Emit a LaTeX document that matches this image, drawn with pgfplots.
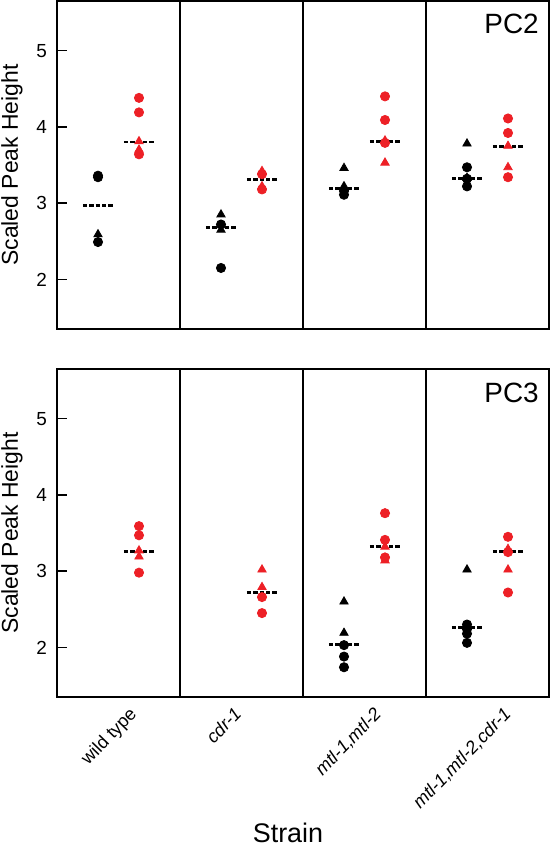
\documentclass[border=0pt]{standalone}
\usepackage{pgfplots}
\pgfplotsset{compat=1.18}
\usepackage{fontspec}
\setmainfont{Liberation Sans}
\definecolor{pred}{RGB}{237,32,38}
\pgfplotsset{
  panel/.style={
    scale only axis, width=246bp, height=164bp,
    xmin=0, xmax=12, ymin=1.35, ymax=5.65,
    axis line style={black, line width=1bp},
    ytick={2,3,4,5}, ytick pos=left, tick align=inside,
    major tick length=5bp,
    ytick style={black, line width=0.9bp},
    xtick style={draw=none},
    yticklabel style={font=\fontsize{9.5}{11}\selectfont, xshift=-1.5bp},
    /pgf/number format/assume math mode=true,
    extra x ticks={3,6,9}, extra x tick labels={},
    extra x tick style={grid=major, major grid style={black, line width=1bp}, tick style={draw=none}},
    ylabel={Scaled Peak Height},
    ylabel style={at={(axis description cs:-0.0915,0.5)}, anchor=center, font=\fontsize{11.5}{13}\selectfont},
    clip=false,
  },
  bcirc/.style={only marks, mark=*, mark size=2.3bp, black, mark options={draw=none, fill=black}},
  btri/.style={only marks, mark=triangle*, mark size=2.4bp, black, mark options={draw=none, fill=black}},
  rcirc/.style={only marks, mark=*, mark size=2.3bp, pred, mark options={draw=none, fill=pred}},
  rtri/.style={only marks, mark=triangle*, mark size=2.4bp, pred, mark options={draw=none, fill=pred}},
  med/.style={black, line width=1.25bp, dash pattern=on 2.2bp off 1bp, unbounded coords=jump},
}
\begin{document}
\begin{tikzpicture}
\useasboundingbox (-28.5bp,-78bp) rectangle (247bp,348.5bp);
% ---------- top panel (PC2)
\begin{axis}[panel, at={(0,184bp)}, anchor=south west, xtick=\empty]
\addplot[bcirc] coordinates {(1,3.36) (1,3.34) (1,2.49) (4,2.72) (4,2.15) (7,3.16) (7,3.11) (10,3.47) (10,3.32) (10,3.22)};
\addplot[btri] coordinates {(1,2.59) (4,2.85) (4,2.65) (7,3.46) (7,3.22) (10,3.78) (10,3.33)};
\addplot[rcirc] coordinates {(2,4.38) (2,4.19) (2,3.64) (5,3.38) (5,3.18) (8,4.40) (8,4.09) (8,3.79) (11,4.11) (11,3.92) (11,3.34)};
\addplot[rtri] coordinates {(2,3.81) (2,3.70) (5,3.42) (5,3.22) (8,3.82) (8,3.53) (11,3.75) (11,3.47)};
\addplot[med] coordinates {(0.63,2.97) (1.37,2.97) (1.5,nan) (1.63,3.80) (2.37,3.80) (2.5,nan)
 (3.63,2.68) (4.37,2.68) (4.5,nan) (4.63,3.31) (5.37,3.31) (5.5,nan)
 (6.63,3.19) (7.37,3.19) (7.5,nan) (7.63,3.81) (8.37,3.81) (8.5,nan)
 (9.63,3.32) (10.37,3.32) (10.5,nan) (10.63,3.74) (11.37,3.74)};
\node[anchor=north east, inner sep=0pt, font=\fontsize{14}{16}\selectfont] at (rel axis cs:0.98,0.962) {PC2};
\end{axis}
% ---------- bottom panel (PC3)
\begin{axis}[panel, at={(0,0)}, anchor=south west,
  xtick={1.59,4.15,7.56,10.72},
  xticklabels={wild type,{\textit{cdr-1}},{\textit{mtl-1,mtl-2}},{\textit{mtl-1,mtl-2,cdr-1}}},
  xticklabel style={rotate=46, anchor=north east, font=\fontsize{9.1}{11}\selectfont, inner sep=1bp, yshift=-4bp},
  xlabel={Strain},
  xlabel style={at={(axis description cs:0.4695,-0.413)}, anchor=center, font=\fontsize{13.5}{15}\selectfont},
]
\addplot[bcirc] coordinates {(7,2.03) (7,1.88) (7,1.74) (10,2.30) (10,2.24) (10,2.18) (10,2.06)};
\addplot[btri] coordinates {(7,2.60) (7,2.19) (10,3.02)};
\addplot[rcirc] coordinates {(2,3.59) (2,3.47) (2,2.98) (5,2.66) (5,2.45) (8,3.76) (8,3.41) (8,3.18) (11,3.45) (11,3.25) (11,2.72)};
\addplot[rtri] coordinates {(2,3.27) (2,3.19) (5,3.02) (5,2.79) (8,3.32) (8,3.14) (11,3.29) (11,3.02)};
\addplot[med] coordinates {(1.63,3.26) (2.37,3.26) (2.5,nan)
 (4.63,2.72) (5.37,2.72) (5.5,nan)
 (6.63,2.04) (7.37,2.04) (7.5,nan) (7.63,3.32) (8.37,3.32) (8.5,nan)
 (9.63,2.26) (10.37,2.26) (10.5,nan) (10.63,3.26) (11.37,3.26)};
\node[anchor=north east, inner sep=0pt, font=\fontsize{14}{16}\selectfont] at (rel axis cs:0.98,0.958) {PC3};
\end{axis}
\end{tikzpicture}
\end{document}
